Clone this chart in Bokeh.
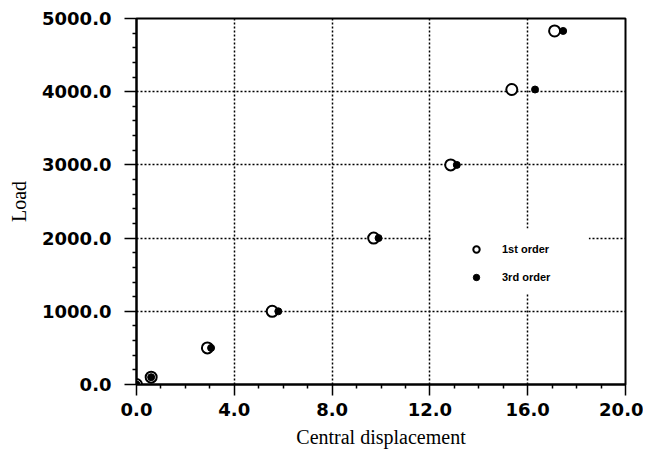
from bokeh.plotting import figure
from bokeh.models import (Range1d, FixedTicker, PrintfTickFormatter, Legend, LegendItem,
                          BoxAnnotation)
from bokeh.embed import file_html
from bokeh.resources import INLINE

# ---- data ----
disp_1st = [0.0, 0.6, 2.9, 5.55, 9.7, 12.85, 15.35, 17.1]
load_1st = [0, 100, 500, 1000, 2000, 3000, 4030, 4830]
disp_3rd = [0.0, 0.6, 3.05, 5.8, 9.9, 13.1, 16.3, 17.45]
load_3rd = [0, 100, 500, 1000, 2000, 3000, 4030, 4830]

x_ticks = [0, 4, 8, 12, 16, 20]
x_minor = [1, 2, 3, 5, 6, 7, 9, 10, 11, 13, 14, 15, 17, 18, 19]
y_ticks = [0, 1000, 2000, 3000, 4000, 5000]
y_minor = [200, 400, 600, 800, 1200, 1400, 1600, 1800, 2200, 2400, 2600, 2800,
           3200, 3400, 3600, 3800, 4200, 4400, 4600, 4800]

series_names = ["1st order", "3rd order"]
x_title = "Central displacement"
y_title = "Load"

TICK_FONT = "DejaVu Sans"
TITLE_FONT = "Liberation Serif"

p = figure(width=643, height=450, output_backend="svg", toolbar_location=None,
           x_range=Range1d(0, 20), y_range=Range1d(0, 5000),
           min_border_left=136, min_border_right=18, min_border_top=18,
           min_border_bottom=66)
p.background_fill_color = "white"
p.border_fill_color = "white"
p.outline_line_color = "black"
p.outline_line_width = 2

for ax, ticks, minor in ((p.xaxis[0], x_ticks, x_minor), (p.yaxis[0], y_ticks, y_minor)):
    ax.ticker = FixedTicker(ticks=ticks, minor_ticks=minor)
    ax.formatter = PrintfTickFormatter(format="%.1f")
    ax.axis_line_color = "black"
    ax.axis_line_width = 2
    ax.major_tick_line_color = "black"
    ax.major_tick_line_width = 1.5
    ax.major_tick_in = 0
    ax.major_tick_out = 11
    ax.minor_tick_line_color = "black"
    ax.minor_tick_line_width = 1.5
    ax.minor_tick_in = 0
    ax.minor_tick_out = 4
    ax.major_label_text_font = TICK_FONT
    ax.major_label_text_font_style = "bold"
    ax.major_label_text_font_size = "18px"
    ax.major_label_text_color = "black"
    ax.axis_label_text_font = TITLE_FONT
    ax.axis_label_text_font_style = "normal"
    ax.axis_label_text_font_size = "20px"
    ax.axis_label_text_color = "black"

p.xaxis.axis_label = x_title
p.yaxis.axis_label = y_title
p.xaxis.major_label_standoff = 7
p.xaxis.axis_label_standoff = 7
p.yaxis.major_tick_out = 12
p.yaxis.major_label_standoff = 13
p.yaxis.axis_label_standoff = 9

for g in (p.xgrid[0], p.ygrid[0]):
    g.grid_line_color = "black"
    g.grid_line_width = 1.5
    g.grid_line_dash = "2 2"
p.xgrid.ticker = FixedTicker(ticks=x_ticks)
p.ygrid.ticker = FixedTicker(ticks=y_ticks)

# white patch behind legend (legend has no border)
box = BoxAnnotation(left=12.05, right=18.5, bottom=1250, top=2130,
                    fill_color="white", fill_alpha=1.0, line_color=None, level="underlay")
p.add_layout(box)

r1 = p.scatter(disp_1st, load_1st, marker="circle", size=11, fill_color="white",
               line_color="black", line_width=2)
r3 = p.scatter(disp_3rd, load_3rd, marker="circle", size=7, fill_color="black",
               line_color="black", line_width=1)

legend = Legend(items=[LegendItem(label=series_names[0], renderers=[r1]),
                       LegendItem(label=series_names[1], renderers=[r3])],
                location=(332, 99), orientation="vertical")
legend.background_fill_alpha = 0
legend.border_line_color = None
legend.label_text_font = "Liberation Sans"
legend.label_text_font_style = "bold"
legend.label_text_font_size = "11px"
legend.label_text_color = "black"
legend.glyph_width = 16
legend.glyph_height = 16
legend.label_height = 16
legend.spacing = 12
legend.label_standoff = 18
legend.padding = 6
legend.margin = 0
p.add_layout(legend)

open("out.html", "w").write(file_html(p, INLINE))
